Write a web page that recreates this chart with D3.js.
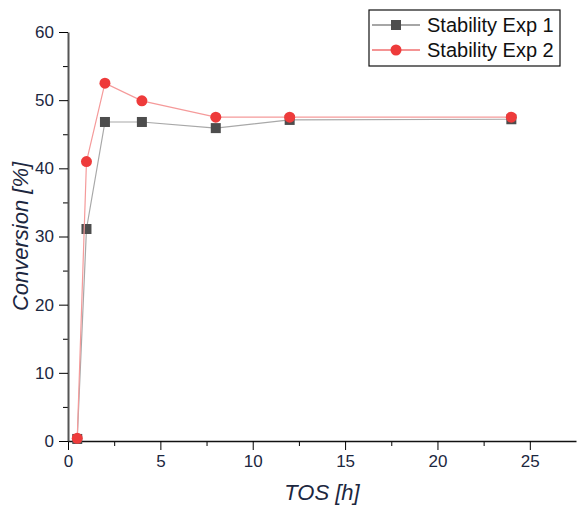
<!DOCTYPE html>
<html>
<head>
<meta charset="utf-8">
<script src="https://cdn.jsdelivr.net/npm/d3@7"></script>
<style>
  body{margin:0;background:#fff;}
  svg{font-family:Arial,"Liberation Sans",sans-serif;}
</style>
</head>
<body>
<div id="chart"></div>
<script>
// data
var tos = [0.5, 1, 2, 4, 8, 12, 24];
var exp1 = [0.3, 31.1, 46.8, 46.8, 45.9, 47.1, 47.2];
var exp2 = [0.4, 41.0, 52.5, 49.9, 47.5, 47.5, 47.5];
var seriesNames = ["Stability Exp 1", "Stability Exp 2"];
var xTicks = [0, 5, 10, 15, 20, 25];
var yTicks = [0, 10, 20, 30, 40, 50, 60];

var W = 577, H = 506;
var margin = {top: 32, right: 1, bottom: 65, left: 68};

var svg = d3.select("#chart").append("svg")
  .attr("width", W)
  .attr("height", H);

var x = d3.scaleLinear().domain([0, 27.5]).range([margin.left, W - margin.right]);
var y = d3.scaleLinear().domain([0, 60]).range([H - margin.bottom, margin.top]);

var textCol = "#1c2740";

// minor ticks
svg.append("g")
  .attr("transform", "translate(0," + y(0) + ")")
  .call(d3.axisBottom(x).tickValues(d3.range(2.5, 27.5, 5)).tickSize(5).tickFormat(""))
  .call(function(g){ g.select(".domain").remove(); });
svg.append("g")
  .attr("transform", "translate(" + x(0) + ",0)")
  .call(d3.axisLeft(y).tickValues(d3.range(5, 60, 10)).tickSize(5).tickFormat(""))
  .call(function(g){ g.select(".domain").remove(); });

// x axis
var gx = svg.append("g")
  .attr("transform", "translate(0," + y(0) + ")")
  .call(d3.axisBottom(x).tickValues(xTicks).tickSize(9).tickPadding(5).tickSizeOuter(0));
gx.select(".domain").attr("stroke", "#111").attr("stroke-width", 1.3);
gx.selectAll("text").attr("font-size", 17).attr("fill", textCol);

// y axis
var gy = svg.append("g")
  .attr("transform", "translate(" + x(0) + ",0)")
  .call(d3.axisLeft(y).tickValues(yTicks).tickSize(9).tickPadding(5).tickSizeOuter(0));
gy.select(".domain").attr("stroke", "#555").attr("stroke-width", 2);
gy.selectAll("text").attr("font-size", 17).attr("fill", textCol);

// axis titles
svg.append("text")
  .attr("x", (x(0) + x(27.5)) / 2)
  .attr("y", 500)
  .attr("text-anchor", "middle")
  .attr("font-size", 22)
  .attr("font-style", "italic")
  .attr("fill", textCol)
  .text("TOS [h]");

svg.append("text")
  .attr("transform", "translate(28," + ((y(0) + y(60)) / 2) + ") rotate(-90)")
  .attr("text-anchor", "middle")
  .attr("font-size", 22)
  .attr("font-style", "italic")
  .attr("fill", textCol)
  .text("Conversion [%]");

var line = d3.line()
  .x(function(d){ return x(d[0]); })
  .y(function(d){ return y(d[1]); });

var data1 = tos.map(function(t, i){ return [t, exp1[i]]; });
var data2 = tos.map(function(t, i){ return [t, exp2[i]]; });

// series 1 - squares
svg.append("path")
  .attr("d", line(data1))
  .attr("fill", "none")
  .attr("stroke", "#a8a8a8")
  .attr("stroke-width", 1.2);
svg.selectAll(".sq")
  .data(data1)
  .enter().append("rect")
  .attr("class", "sq")
  .attr("x", function(d){ return x(d[0]) - 5; })
  .attr("y", function(d){ return y(d[1]) - 5; })
  .attr("width", 10)
  .attr("height", 10)
  .attr("fill", "#4d4d4d");

// series 2 - circles
svg.append("path")
  .attr("d", line(data2))
  .attr("fill", "none")
  .attr("stroke", "#f59a9a")
  .attr("stroke-width", 1.2);
svg.selectAll(".dot")
  .data(data2)
  .enter().append("circle")
  .attr("class", "dot")
  .attr("cx", function(d){ return x(d[0]); })
  .attr("cy", function(d){ return y(d[1]); })
  .attr("r", 5.5)
  .attr("fill", "#ee3b3b");

// legend
var lg = svg.append("g").attr("transform", "translate(369,10)");
lg.append("rect")
  .attr("width", 191).attr("height", 56)
  .attr("fill", "#fff").attr("stroke", "#111").attr("stroke-width", 1.2);
var rows = lg.selectAll(".row")
  .data(seriesNames)
  .enter().append("g")
  .attr("transform", function(d, i){ return "translate(0," + (15 + i * 25) + ")"; });
rows.append("line")
  .attr("x1", 3).attr("x2", 51)
  .attr("stroke", function(d, i){ return i ? "#f07070" : "#888"; })
  .attr("stroke-width", 1.3);
rows.filter(function(d, i){ return i === 0; }).append("rect")
  .attr("x", 22).attr("y", -5).attr("width", 10).attr("height", 10).attr("fill", "#4d4d4d");
rows.filter(function(d, i){ return i === 1; }).append("circle")
  .attr("cx", 27).attr("r", 5.5).attr("fill", "#ee3b3b");
rows.append("text")
  .attr("x", 58)
  .attr("dy", "0.36em")
  .attr("font-size", 20)
  .attr("fill", "#111")
  .text(function(d){ return d; });
</script>
</body>
</html>
